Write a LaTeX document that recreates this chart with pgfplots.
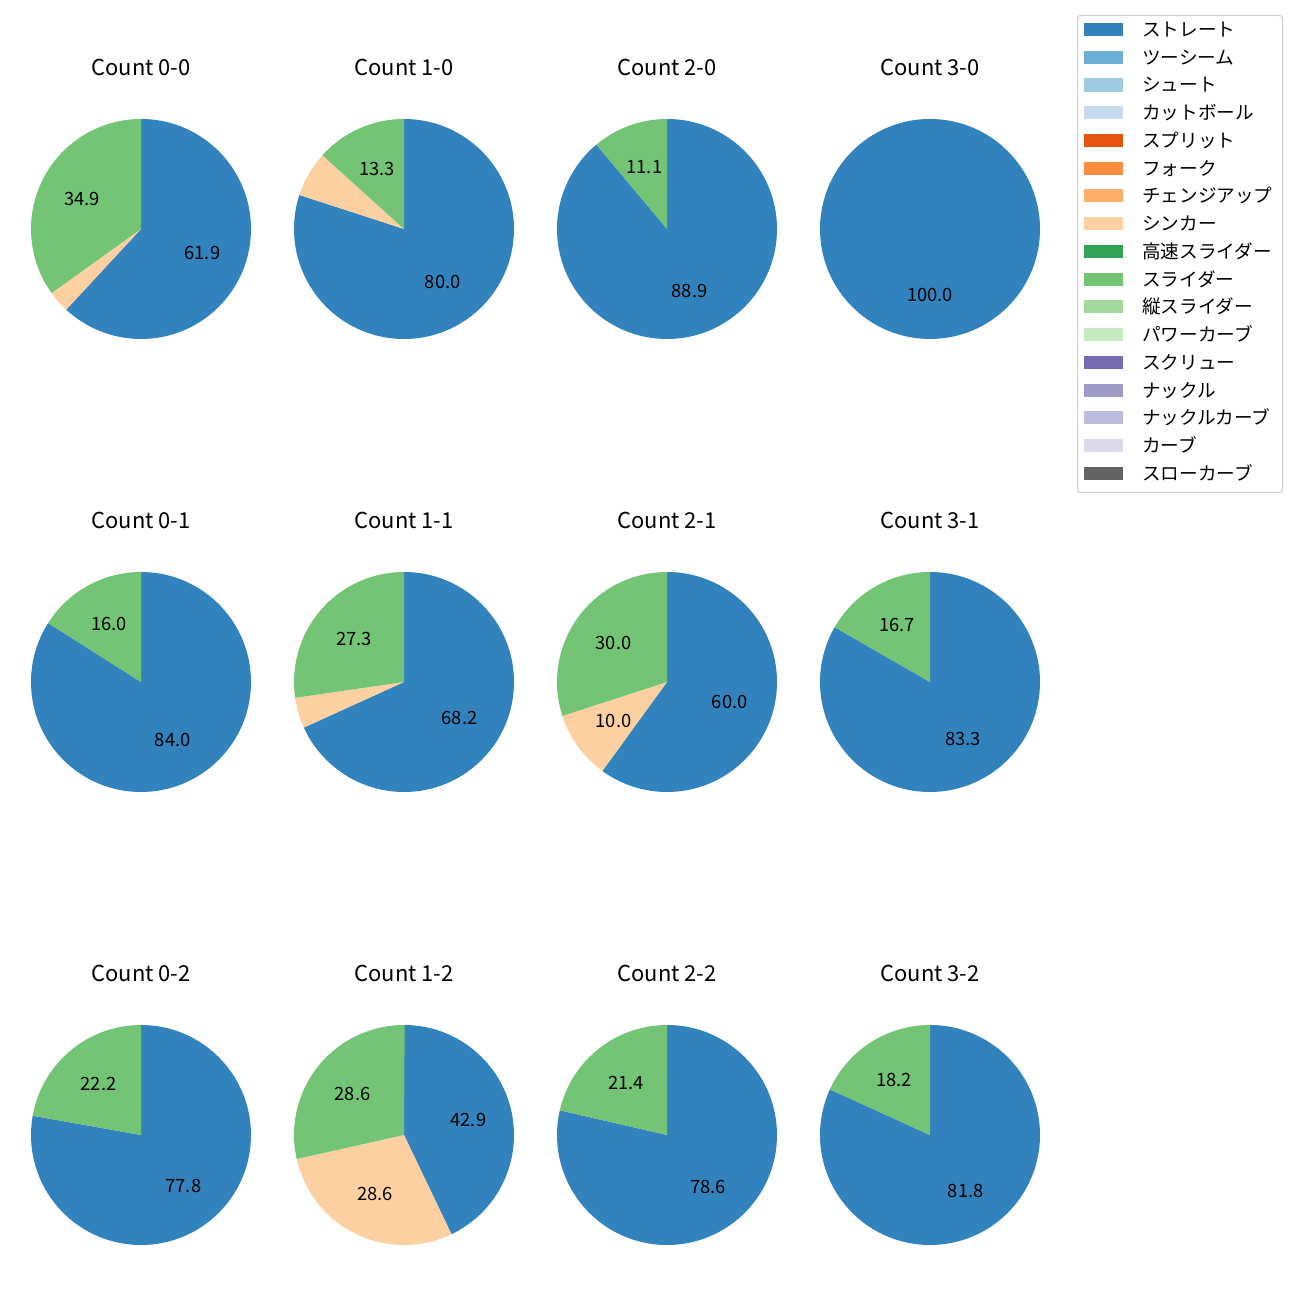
\documentclass[border=0pt]{standalone}
\usepackage{pgfplots}
\usepackage{pgfplotstable}
\pgfplotsset{compat=1.18}
\usepackage{fontspec}
\setmainfont{Noto Sans CJK JP}

% tab20c
\definecolor{c01}{HTML}{3182BD}
\definecolor{c02}{HTML}{6BAED6}
\definecolor{c03}{HTML}{9ECAE1}
\definecolor{c04}{HTML}{C6DBEF}
\definecolor{c05}{HTML}{E6550D}
\definecolor{c06}{HTML}{FD8D3C}
\definecolor{c07}{HTML}{FDAE6B}
\definecolor{c08}{HTML}{FDD0A2}
\definecolor{c09}{HTML}{31A354}
\definecolor{c10}{HTML}{74C476}
\definecolor{c11}{HTML}{A1D99B}
\definecolor{c12}{HTML}{C7E9C0}
\definecolor{c13}{HTML}{756BB1}
\definecolor{c14}{HTML}{9E9AC8}
\definecolor{c15}{HTML}{BCBDDC}
\definecolor{c16}{HTML}{DADAEB}
\definecolor{c17}{HTML}{636363}

% share (%) of straight / sinker / slider per count
\pgfplotstableread{
name s c l
0-0 61.9 3.2 34.9
1-0 80.0 6.7 13.3
2-0 88.9 0.0 11.1
3-0 100.0 0.0 0.0
0-1 84.0 0.0 16.0
1-1 68.2 4.5 27.3
2-1 60.0 10.0 30.0
3-1 83.3 0.0 16.7
0-2 77.8 0.0 22.2
1-2 42.9 28.6 28.6
2-2 78.6 0.0 21.4
3-2 81.8 0.0 18.2
}\piedata

\pgfkeys{/pgf/number format/.cd,fixed,fixed zerofill,precision=1,assume math mode=true}
\newcommand\lblfont{\fontsize{13.2bp}{15bp}\selectfont}

% slice from angle #1 to #2 in colour #3, share #4
\newcommand\pieslice[4]{%
  \ifdim#4pt>0pt
    \fill[#3] (axis cs:0,0) -- (axis cs:{cos(#1)},{sin(#1)})
      arc[start angle=#1, end angle=#2, radius=79.2bp] -- cycle;
  \fi}
\newcommand\pielabel[2]{%
  \ifdim#2pt>9.9pt
    \node[font=\lblfont] at (axis cs:{0.6*cos(#1)},{0.6*sin(#1)}) {\pgfmathprintnumber{#2}};
  \fi}

\begin{document}
\begin{tikzpicture}
\path[use as bounding box] (0,0) rectangle (936bp,936bp);

\foreach \r in {0,...,11} {
  \pgfplotstablegetelem{\r}{name}\of\piedata \edef\pname{\pgfplotsretval}
  \pgfplotstablegetelem{\r}{s}\of\piedata \edef\ps{\pgfplotsretval}
  \pgfplotstablegetelem{\r}{c}\of\piedata \edef\pc{\pgfplotsretval}
  \pgfplotstablegetelem{\r}{l}\of\piedata \edef\pl{\pgfplotsretval}
  \pgfmathsetmacro\cx{(141+263*mod(\r,4))*0.72}
  \pgfmathsetmacro\cy{(1300-229-453*floor(\r/4))*0.72}
  \pgfmathsetmacro\aA{90}
  \pgfmathsetmacro\aB{\aA-3.6*\ps}
  \pgfmathsetmacro\aC{\aB-3.6*\pc}
  \pgfmathsetmacro\aD{\aC-3.6*\pl}
  \pgfmathsetmacro\mA{(\aA+\aB)/2}
  \pgfmathsetmacro\mB{(\aB+\aC)/2}
  \pgfmathsetmacro\mC{(\aC+\aD)/2}
  \begin{axis}[
    at={(\cx bp,\cy bp)}, anchor=center,
    hide axis, scale only axis,
    width=158.4bp, height=158.4bp,
    xmin=-1, xmax=1, ymin=-1, ymax=1,
    title={Count \pname},
    every axis title/.style={at={(0.5,1)}, anchor=base, yshift=31bp,
      font=\fontsize{15.8bp}{18bp}\selectfont},
  ]
    \pieslice{\aA}{\aB}{c01}{\ps}
    \pieslice{\aB}{\aC}{c08}{\pc}
    \pieslice{\aC}{\aD}{c10}{\pl}
    \pielabel{\mA}{\ps}
    \pielabel{\mB}{\pc}
    \pielabel{\mC}{\pl}
  \end{axis}
}

% legend
\begin{axis}[
  at={(775.44bp,925.2bp)}, anchor=north west,
  hide axis, scale only axis, width=10bp, height=10bp,
  xmin=0, xmax=1, ymin=0, ymax=1,
  legend image code/.code={\fill[sharp corners,#1] (0bp,0.3bp) rectangle (27.9bp,9.7bp);},
  legend style={at={(0,1)}, anchor=north west,
    draw=black!20, line width=0.72bp, rounded corners=2.2bp, fill=white,
    inner xsep=5bp, inner ysep=4.1bp, row sep=4.27bp, column sep=13.7bp,
    font=\fontsize{13.4bp}{15bp}\selectfont,
    cells={anchor=base west},
    nodes={inner sep=0pt, text height=11bp, text depth=4.7bp, text width=96bp, align=left}},
]
  \addlegendimage{fill=c01, draw=none} \addlegendentry{ストレート}
  \addlegendimage{fill=c02, draw=none} \addlegendentry{ツーシーム}
  \addlegendimage{fill=c03, draw=none} \addlegendentry{シュート}
  \addlegendimage{fill=c04, draw=none} \addlegendentry{カットボール}
  \addlegendimage{fill=c05, draw=none} \addlegendentry{スプリット}
  \addlegendimage{fill=c06, draw=none} \addlegendentry{フォーク}
  \addlegendimage{fill=c07, draw=none} \addlegendentry{チェンジアップ}
  \addlegendimage{fill=c08, draw=none} \addlegendentry{シンカー}
  \addlegendimage{fill=c09, draw=none} \addlegendentry{高速スライダー}
  \addlegendimage{fill=c10, draw=none} \addlegendentry{スライダー}
  \addlegendimage{fill=c11, draw=none} \addlegendentry{縦スライダー}
  \addlegendimage{fill=c12, draw=none} \addlegendentry{パワーカーブ}
  \addlegendimage{fill=c13, draw=none} \addlegendentry{スクリュー}
  \addlegendimage{fill=c14, draw=none} \addlegendentry{ナックル}
  \addlegendimage{fill=c15, draw=none} \addlegendentry{ナックルカーブ}
  \addlegendimage{fill=c16, draw=none} \addlegendentry{カーブ}
  \addlegendimage{fill=c17, draw=none} \addlegendentry{スローカーブ}
\end{axis}
\end{tikzpicture}
\end{document}
